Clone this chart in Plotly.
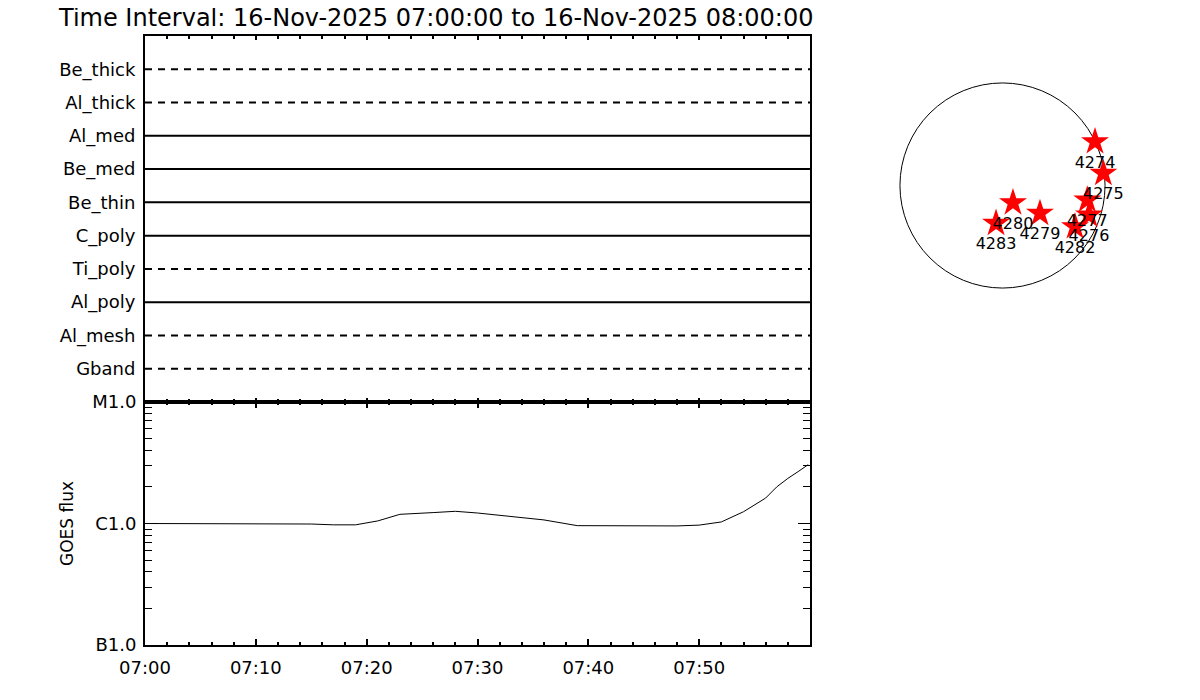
import plotly.graph_objects as go

# ---------------- data ----------------
title_text = "Time Interval: 16-Nov-2025 07:00:00 to 16-Nov-2025 08:00:00"
t_start = "2025-11-16 07:00:00"
t_end = "2025-11-16 08:00:00"

# filter channels (bottom to top) and whether the coverage line is dashed
channels = ["Gband", "Al_mesh", "Al_poly", "Ti_poly", "C_poly",
            "Be_thin", "Be_med", "Al_med", "Al_thick", "Be_thick"]
channel_dashed = [True, True, False, True, False,
                  False, False, False, True, True]
channel_start = [t_start] * len(channels)
channel_end = [t_end] * len(channels)

# GOES flux (W/m^2)
goes_times = ["07:00", "07:05", "07:10", "07:15", "07:17", "07:19", "07:21",
              "07:23", "07:26", "07:28", "07:30", "07:33", "07:36", "07:39",
              "07:42", "07:45", "07:48", "07:50", "07:52", "07:54", "07:55",
              "07:56", "07:57", "07:58", "07:59", "07:59:50"]
goes_flux = [1.00e-7, 1.00e-7, 1.00e-7, 0.99e-7, 0.975e-7, 0.975e-7, 1.05e-7,
             1.19e-7, 1.23e-7, 1.26e-7, 1.22e-7, 1.15e-7, 1.07e-7, 0.96e-7,
             0.96e-7, 0.96e-7, 0.955e-7, 0.97e-7, 1.03e-7, 1.25e-7, 1.42e-7,
             1.62e-7, 2.00e-7, 2.35e-7, 2.70e-7, 3.05e-7]
goes_tickvals = [1e-8, 1e-7, 1e-6]
goes_ticktext = ["B1.0", "C1.0", "M1.0"]
goes_minor = [k * 10.0 ** e for e in (-8, -7) for k in range(2, 10)]

time_tickvals = ["2025-11-16 07:00", "2025-11-16 07:10", "2025-11-16 07:20",
                 "2025-11-16 07:30", "2025-11-16 07:40", "2025-11-16 07:50"]
time_ticktext = ["07:00", "07:10", "07:20", "07:30", "07:40", "07:50"]

# active regions (arcsec from disk centre)
ar_names = ["4274", "4275", "4277", "4276", "4282", "4280", "4279", "4283"]
ar_x = [874, 953, 801, 817, 685, 99, 354, -61]
ar_y = [414, 115, -137, -279, -389, -163, -263, -357]
sun_radius = 969

# ---------------- figure ----------------
FONT = "DejaVu Sans"
W, H = 1200, 700
OFF = 8  # page body margin in the browser


def px_x(p):
    return (p - OFF) / W


def px_y(p):
    return 1 - (p - OFF) / H


fig = go.Figure()

for name, dashed, s, e, yv in zip(channels, channel_dashed, channel_start,
                                  channel_end, range(1, len(channels) + 1)):
    fig.add_trace(go.Scatter(
        x=[s, e], y=[yv, yv], mode="lines", xaxis="x", yaxis="y",
        line=dict(color="black", width=2, dash="7px,6px" if dashed else "solid"),
        showlegend=False, hoverinfo="skip", name=name))

fig.add_trace(go.Scatter(
    x=["2025-11-16 " + t for t in goes_times], y=goes_flux, mode="lines",
    xaxis="x2", yaxis="y2", line=dict(color="black", width=1),
    showlegend=False, name="GOES"))

fig.add_trace(go.Scatter(
    x=ar_x, y=ar_y, mode="markers+text", xaxis="x3", yaxis="y3",
    marker=dict(symbol="star", size=21, color="red", line=dict(width=0)),
    text=ar_names, textposition="bottom center",
    textfont=dict(family=FONT, size=16, color="black"),
    showlegend=False, name="AR"))

fig.add_shape(type="circle", xref="x3", yref="y3",
              x0=-sun_radius, x1=sun_radius, y0=-sun_radius, y1=sun_radius,
              line=dict(color="black", width=1), layer="below")

x_dom = [px_x(145), px_x(810)]
time_common = dict(
    type="date", range=[t_start, t_end], showline=True, linecolor="black",
    linewidth=2, mirror="ticks", ticks="inside", tickcolor="black",
    tickwidth=2, showgrid=False, zeroline=False, automargin=False,
    minor=dict(ticks="inside", dtick=120000, tick0=t_start, ticklen=3,
               tickcolor="black", tickwidth=2, showgrid=False),
)

fig.update_layout(
    width=W, height=H, paper_bgcolor="white", plot_bgcolor="white",
    margin=dict(l=0, r=0, t=0, b=0, pad=0, autoexpand=False),
    font=dict(family=FONT, size=17, color="black"),
    title=dict(text=title_text, x=px_x(59), xanchor="left", y=px_y(18),
               yanchor="middle", automargin=False,
               font=dict(family=FONT, size=24, color="black")),
    xaxis=dict(domain=x_dom, anchor="y", showticklabels=False, ticklen=4,
               dtick=600000, tick0=t_start, **time_common),
    yaxis=dict(domain=[px_y(402), px_y(36)], anchor="x", range=[0, 11],
               tickmode="array", tickvals=list(range(1, len(channels) + 1)),
               ticktext=channels, ticks="", showline=True, linecolor="black",
               linewidth=2, mirror=True, showgrid=False, zeroline=False,
               automargin=False, ticklabelstandoff=4, tickfont=dict(size=18)),
    xaxis2=dict(domain=x_dom, anchor="y2", ticklen=6, tickmode="array",
                tickvals=time_tickvals, ticktext=time_ticktext,
                ticklabelstandoff=5, tickfont=dict(size=18), **time_common),
    yaxis2=dict(domain=[px_y(645), px_y(402)], anchor="x2", type="log",
                range=[-8, -6], tickmode="array", tickvals=goes_tickvals,
                ticktext=goes_ticktext, ticks="inside", ticklen=12,
                tickwidth=1, tickcolor="black", showline=True,
                linecolor="black", linewidth=2, mirror="ticks",
                showgrid=False, zeroline=False, automargin=False,
                ticklabelstandoff=3, tickfont=dict(size=18),
                minor=dict(ticks="inside", tickmode="array",
                           tickvals=goes_minor, ticklen=7, tickwidth=1,
                           tickcolor="black", showgrid=False),
                title=dict(text="GOES flux", standoff=14,
                           font=dict(size=17))),
    xaxis3=dict(domain=[px_x(875.5), px_x(1129.5)], anchor="y3",
                range=[-1200, 1200], visible=False, automargin=False),
    yaxis3=dict(domain=[px_y(312.5), px_y(58.5)], anchor="x3",
                range=[-1200, 1200], visible=False, automargin=False),
)

fig.write_html("out.html")
